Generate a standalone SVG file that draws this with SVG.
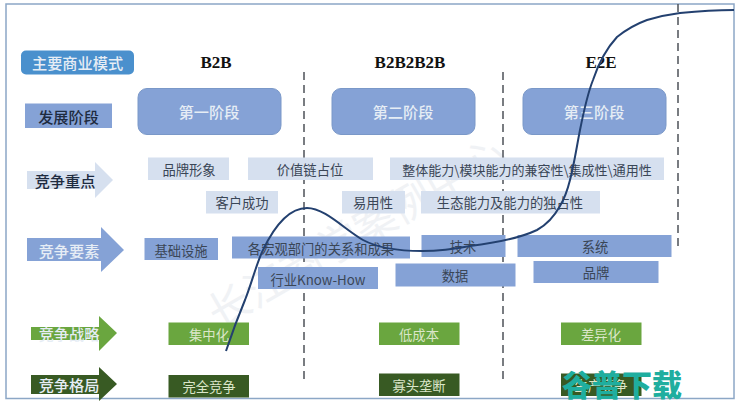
<svg xmlns="http://www.w3.org/2000/svg" width="740" height="406" viewBox="0 0 740 406">
<style>
text{font-family:"Noto Sans CJK SC","Liberation Sans",sans-serif;text-anchor:middle;dominant-baseline:central}
.d{fill:#3a4656}.w{fill:#e6edf5}.g{fill:#dbe6c9}
.lt{fill:#d6e0ef}.md{fill:#85a2d6}.st{fill:#85a2d6;stroke:#7a98c8;stroke-width:1}
.gr{fill:#6aa63f}.dg{fill:#385a23}
.t{font-size:13.300px}.l{font-size:15.200px;font-weight:500}
.h{font-family:"Liberation Serif",serif;font-weight:700;font-size:17px;fill:#111}
.dash{fill:none;stroke:#4d5258;stroke-width:1.5;stroke-dasharray:8 5}
</style>
<rect width="740" height="406" fill="#fff"/>
<rect x="6" y="4" width="728" height="394.500" fill="#fff" stroke="#8ca7c6" stroke-width="1.500"/>
<g id="wm"><text transform="translate(355 230) rotate(-30)" font-size="42" fill="#f0f2f5">长江商学案例中心</text></g>
<g id="mode"><rect x="21" y="50.500" width="113" height="24" rx="5" fill="#4a90cd"/><text class="l w" x="77.500" y="62">主要商业模式</text></g>
<g id="stage"><rect x="25" y="103.500" width="87" height="24.500" class="md"/><text class="l" x="68.500" y="116" fill="#1e2b40">发展阶段</text></g>
<g id="focus"><path d="M27 171H95V162L113 180L95 198V189H27Z" fill="#d6e0ef"/><text class="l" x="65" y="180" fill="#1e2b40">竞争重点</text></g>
<g id="elements"><path d="M27 238H101V227L124 250L101 272V261H27Z" class="md"/><text class="l w" x="69" y="250">竞争要素</text></g>
<g id="strategy"><path d="M31 327H99V316L117 333L99 351V340H31Z" class="gr"/><text class="l w" x="69" y="333">竞争战略</text></g>
<g id="pattern"><path d="M31 375H99V367L117 384L99 401V394H31Z" class="dg"/><text class="l w" x="69" y="384">竞争格局</text></g>
<g id="h1"><text class="h" x="216" y="62">B2B</text></g>
<g id="h2"><text class="h" x="410" y="62">B2B2B2B</text></g>
<g id="h3"><text class="h" x="601" y="62">E2E</text></g>
<g id="s1"><rect x="138" y="88.500" width="143" height="46" rx="9" class="st"/><text class="l w" x="209" y="111">第一阶段</text></g>
<g id="s2"><rect x="332" y="88.500" width="143" height="46" rx="9" class="st"/><text class="l w" x="403" y="111">第二阶段</text></g>
<g id="s3"><rect x="523" y="88.500" width="143" height="46" rx="9" class="st"/><text class="l w" x="594" y="111">第三阶段</text></g>
<g id="connectors">
<path class="dash" d="M304 72V382"/>
<path class="dash" d="M503 72V384"/>
<path class="dash" d="M678 4V248"/>
</g>
<g id="f1"><rect x="148" y="157.500" width="81" height="22.500" class="lt"/><text class="t d" x="189" y="169">品牌形象</text></g>
<g id="f2"><rect x="248" y="157.500" width="125" height="22.500" class="lt"/><text class="t d" x="310" y="169">价值链占位</text></g>
<g id="f3"><rect x="390" y="157.500" width="274" height="22.500" class="lt"/><text class="t d" x="527" y="169" style="font-size:13px">整体能力\模块能力的兼容性\集成性\通用性</text></g>
<g id="f4"><rect x="206" y="191" width="72" height="22.500" class="lt"/><text class="t d" x="242" y="202">客户成功</text></g>
<g id="f5"><rect x="342" y="191" width="63" height="22.500" class="lt"/><text class="t d" x="373" y="202">易用性</text></g>
<g id="f6"><rect x="421" y="191" width="179" height="22.500" class="lt"/><text class="t d" x="510" y="202">生态能力及能力的独占性</text></g>
<g id="e1"><rect x="144.500" y="238" width="73.500" height="22" class="md"/><text class="t d" x="181" y="250">基础设施</text></g>
<g id="e2"><rect x="232" y="236.500" width="178" height="22" class="md"/><text class="t d" x="321" y="248">各宏观部门的关系和成果</text></g>
<g id="e3"><rect x="258" y="267" width="120" height="22" class="md"/><text class="t d" x="318" y="279">行业Know-How</text></g>
<g id="e4"><rect x="421.500" y="235" width="84" height="22" class="md"/><text class="t d" x="463" y="246">技术</text></g>
<g id="e5"><rect x="395.500" y="263.500" width="120" height="23" class="md"/><text class="t d" x="455" y="275">数据</text></g>
<g id="e6"><rect x="517.500" y="235" width="154" height="22" class="md"/><text class="t d" x="595" y="246">系统</text></g>
<g id="e7"><rect x="533.500" y="261" width="125" height="22" class="md"/><text class="t d" x="596" y="272">品牌</text></g>
<g id="g1"><rect x="168.500" y="322.500" width="80.500" height="22.500" class="gr"/><text class="t g" x="209" y="334">集中化</text></g>
<g id="g2"><rect x="379" y="322.500" width="80.500" height="22.500" class="gr"/><text class="t g" x="419" y="334">低成本</text></g>
<g id="g3"><rect x="561" y="322.500" width="80.500" height="22.500" class="gr"/><text class="t g" x="601" y="334">差异化</text></g>
<g id="p1"><rect x="168.500" y="375" width="80.500" height="22.500" class="dg"/><text class="t g" x="209" y="386">完全竞争</text></g>
<g id="p2"><rect x="379" y="373.500" width="80.500" height="22.500" class="dg"/><text class="t g" x="419" y="385">寡头垄断</text></g>
<g id="p3"><rect x="561" y="373.500" width="80.500" height="22.500" class="dg"/><text class="t g" x="601" y="385">生产竞争</text></g>
<g id="curve"><path d="M226 351C232 333 240 312 245 300C252 282 257 262 263 250C275 225 290 208 307 208C325 208 345 230 363 240C378 248 400 251 422 251C442 251 455 249 470 246C495 243 520 238 537 230C548 224 555 215 560 206C566 196 568 188 570 180C574 165 577 145 580 130C584 110 587 95 593 80C597 68 605 50 617 37C627 29 636 24 647 20C660 16 672 14 680 13C700 11 720 10 734 10" fill="none" stroke="#23406f" stroke-width="2"/></g>
<g id="logo"><text x="622" y="383" font-size="30" font-weight="900" fill="#1fae9f">谷普下载</text></g>
</svg>
